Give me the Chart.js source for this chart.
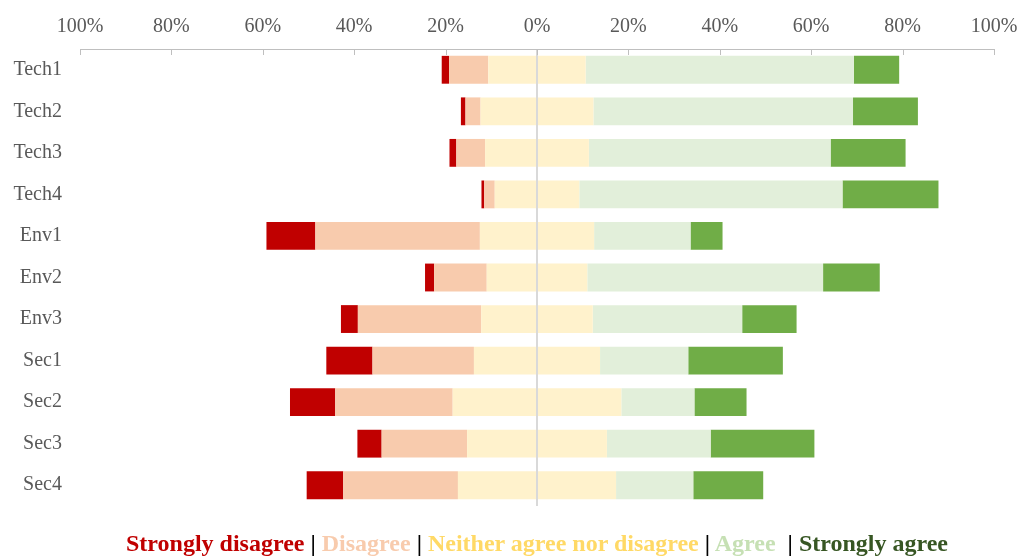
<!DOCTYPE html>
<html>
<head>
<meta charset="utf-8">
<script src="https://cdn.jsdelivr.net/npm/chart.js@4/dist/chart.umd.min.js"></script>
<style>
  body { margin: 0; background: #fff; }
  #wrap { position: absolute; left: 0; top: 0; width: 1024px; height: 536px; }
  #legend {
    position: absolute; left: 25px; top: 528px;
    width: 1024px; text-align: center; white-space: pre; line-height: 30px;
    font-family: "Liberation Serif", serif; font-weight: bold; font-size: 24px;
  }
</style>
</head>
<body>
<div id="wrap"><canvas id="chart"></canvas></div>
<div id="legend"><span style="color:#C00000">Strongly disagree</span> | <span style="color:#F8CBAD">Disagree</span> | <span style="color:#FFD966">Neither agree nor disagree</span> | <span style="color:#C6E0B4">Agree</span>  | <span style="color:#375623">Strongly agree</span></div>
<script>
const categories = ['Tech1', 'Tech2', 'Tech3', 'Tech4', 'Env1', 'Env2', 'Env3', 'Sec1', 'Sec2', 'Sec3', 'Sec4'];
const stronglyDisagree = [1.6, 1.0, 1.5, 0.6, 10.7, 2.0, 3.7, 10.1, 9.9, 5.3, 8.0];
const disagree = [8.6, 3.3, 6.3, 2.3, 36.0, 11.5, 27.0, 22.2, 25.7, 18.7, 25.1];
const neutral = [21.3, 24.7, 22.7, 18.5, 25.0, 22.0, 24.4, 27.6, 36.9, 30.6, 34.6];
const agree = [58.7, 56.8, 52.9, 57.6, 21.1, 51.6, 32.7, 19.3, 16.0, 22.7, 16.9];
const stronglyAgree = [9.9, 14.2, 16.4, 21.0, 7.0, 12.4, 11.9, 20.7, 11.4, 22.7, 15.3];

const textColor = '#595959';
const axisColor = '#bfbfbf';

// neutral is split half left, half right of zero
const bar = (label, data, color) => ({
    label: label,
    data: data,
    backgroundColor: color,
    borderWidth: 0,
    categoryPercentage: 1,
    barPercentage: 0.67
});

const datasets = [
    bar('Neither agree nor disagree', neutral.map(v => -v / 2), '#FFF2CC'),
    bar('Neither agree nor disagree', neutral.map(v => v / 2), '#FFF2CC'),
    bar('Disagree', disagree.map(v => -v), '#F8CBAD'),
    bar('Agree', agree, '#E2EFDA'),
    bar('Strongly disagree', stronglyDisagree.map(v => -v), '#C00000'),
    bar('Strongly agree', stronglyAgree, '#70AD47')
];

// tick marks pointing down into the plot, like the original
const downTicks = {
    id: 'downTicks',
    afterDraw(chart) {
        const x = chart.scales.x;
        const ctx = chart.ctx;
        ctx.save();
        ctx.strokeStyle = axisColor;
        ctx.lineWidth = 1;
        for (const t of x.ticks) {
            const px = Math.round(x.getPixelForValue(t.value)) + 0.5;
            ctx.beginPath();
            ctx.moveTo(px, chart.chartArea.top);
            ctx.lineTo(px, chart.chartArea.top + 6);
            ctx.stroke();
        }
        ctx.restore();
    }
};

const config = {
    type: 'bar',
    data: { labels: categories, datasets: datasets },
    options: {
        indexAxis: 'y',
        responsive: true,
        maintainAspectRatio: false,
        animation: false,
        layout: { padding: { top: 5, right: 30, bottom: 10, left: 0 } },
        plugins: { legend: { display: false }, tooltip: { enabled: false } },
        scales: {
            x: {
                position: 'top',
                stacked: true,
                min: -100,
                max: 100,
                z: 1,
                afterFit: s => { s.paddingLeft = 0; s.paddingRight = 0; },
                ticks: {
                    stepSize: 20,
                    padding: 10,
                    color: textColor,
                    font: { family: 'Liberation Serif', size: 20 },
                    callback: v => Math.abs(v) + '%'
                },
                grid: {
                    drawTicks: false,
                    color: c => (c.tick && c.tick.value === 0) ? '#d9d9d9' : 'rgba(0,0,0,0)',
                    lineWidth: 2
                },
                border: { display: true, color: axisColor }
            },
            y: {
                stacked: true,
                afterFit: s => { s.width = 80; },
                ticks: {
                    padding: 18,
                    color: textColor,
                    font: { family: 'Liberation Serif', size: 20 }
                },
                grid: { display: false, drawTicks: false },
                border: { display: false }
            }
        }
    },
    plugins: [downTicks]
};

window.onload = function () {
    const ctx = document.querySelector('#chart').getContext('2d');
    const myChart = new Chart(ctx, config);
};
</script>
</body>
</html>
